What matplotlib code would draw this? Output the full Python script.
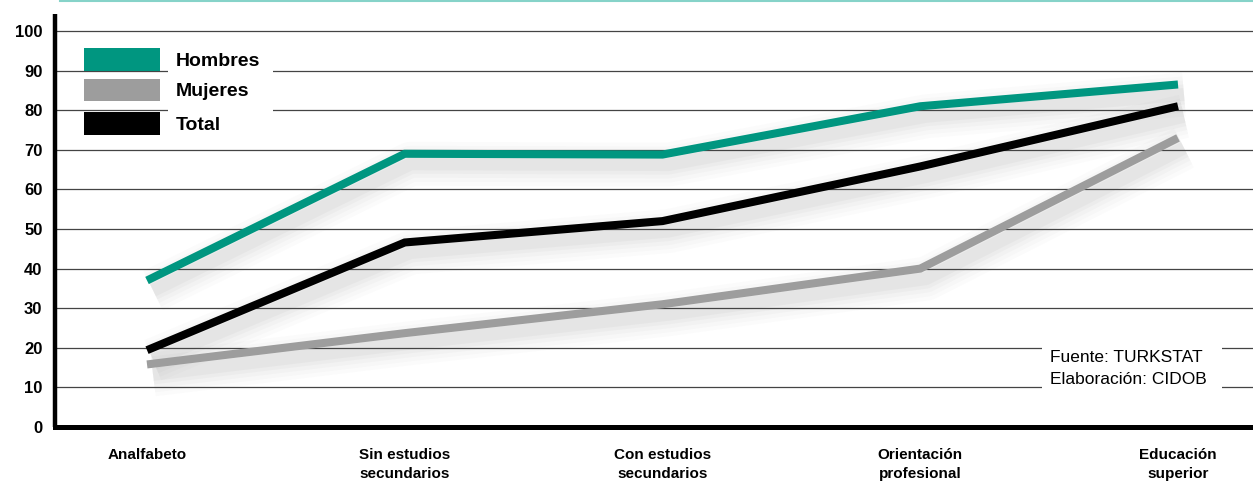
import matplotlib
matplotlib.use('Agg')
import matplotlib.pyplot as plt
import matplotlib.transforms as mtransforms
from matplotlib.lines import Line2D
from matplotlib.patches import Rectangle

# niveles educativos y porcentajes
categorias = ['Analfabeto', 'Sin estudios\nsecundarios', 'Con estudios\nsecundarios',
              'Orientación\nprofesional', 'Educación\nsuperior']
hombres = [37, 69, 68.8, 81, 86.5]
mujeres = [15.8, 23.7, 31, 40, 73]
total = [19.4, 46.6, 52, 65.8, 81]
yticks = [0, 10, 20, 30, 40, 50, 60, 70, 80, 90, 100]

teal = '#009680'
gris = '#9d9d9d'
negro = '#000000'

plt.rcParams['font.family'] = ['Liberation Sans', 'DejaVu Sans']

W, H = 1253, 482
fig = plt.figure(figsize=(W / 100, H / 100), dpi=100)
ax = fig.add_axes([55 / W, (H - 427) / H, (W - 55) / W, (427 - 14) / H])

x = list(range(len(categorias)))
ax.set_xlim(-0.357, 4.291)
ax.set_ylim(0, 104.3)

# rejilla
for v in yticks[1:]:
    ax.axhline(v, color='#444444', lw=0.9, zorder=1)

# sombras difusas + lineas
series = [(mujeres, gris), (total, negro), (hombres, teal)]
for vals, col in series:
    off = mtransforms.offset_copy(ax.transData, fig=fig, x=6, y=-10, units='dots')
    for lw, a in [(44, 0.018), (36, 0.022), (28, 0.028), (20, 0.035), (13, 0.045)]:
        ax.plot(x, vals, color='#555555', lw=lw * 0.72, alpha=a, transform=off,
                solid_capstyle='butt', solid_joinstyle='round', zorder=2)
for vals, col in series:
    ax.plot(x, vals, color=col, lw=5.8, solid_capstyle='butt',
            solid_joinstyle='miter', zorder=4)

# ejes
for s in ['top', 'right']:
    ax.spines[s].set_visible(False)
ax.spines['left'].set_linewidth(3.2)
ax.spines['bottom'].set_linewidth(3.6)
ax.spines['left'].set_capstyle('butt')
ax.set_yticks(yticks)
ax.set_yticklabels([str(v) for v in yticks], fontsize=12, fontweight='bold')
ax.tick_params(axis='y', length=0, pad=9)
ax.set_xticks(x)
ax.set_xticklabels(categorias, fontsize=11, fontweight='bold', linespacing=1.45)
ax.tick_params(axis='x', length=0, pad=15)

# leyenda
def px(xp, yp):
    return xp / W, (H - yp) / H

fig.patches.append(Rectangle(px(168, 137), 105 / W, 92 / H, transform=fig.transFigure,
                             facecolor='white', edgecolor='none', zorder=5))
for (lab, col), (y0, y1) in zip([('Hombres', teal), ('Mujeres', gris), ('Total', negro)],
                                [(48, 71), (79, 101), (112, 135)]):
    fig.patches.append(Rectangle(px(84, y1), 76 / W, (y1 - y0) / H, transform=fig.transFigure,
                                 facecolor=col, edgecolor='none', zorder=6))
    fig.text(*px(176, (y0 + y1) / 2 + 2), lab, fontsize=14, fontweight='bold',
             va='center', ha='left', zorder=7)

# fuente
fig.patches.append(Rectangle(px(1042, 392), 180 / W, 50 / H, transform=fig.transFigure,
                             facecolor='white', edgecolor='none', zorder=5))
fig.text(*px(1050, 358), 'Fuente: TURKSTAT', fontsize=12.5, va='center', ha='left', zorder=7)
fig.text(*px(1050, 380), 'Elaboración: CIDOB', fontsize=12.5, va='center', ha='left', zorder=7)

# linea superior
fig.add_artist(Line2D([60 / W, 1], [1 - 1 / H, 1 - 1 / H], transform=fig.transFigure,
                      color='#86d3c9', lw=1.5))

fig.savefig('out.png', dpi=100)
